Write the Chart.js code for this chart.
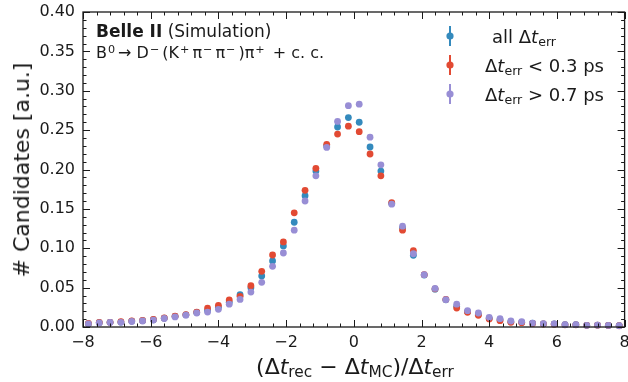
<!DOCTYPE html>
<html>
<head>
<meta charset="utf-8">
<script src="https://cdn.jsdelivr.net/npm/chart.js@4.4.1/dist/chart.umd.min.js"></script>
<style>
  html, body { margin: 0; padding: 0; background: #fff; }
  #wrap { position: relative; width: 628px; height: 382px; font-family: 'DejaVu Sans', sans-serif; color: #1a1a1a; }
  #c { position: absolute; left: 0; top: 0; }
  .t { position: absolute; white-space: nowrap; line-height: 1; }
  .t i { font-family: 'DejaVu Sans', sans-serif; font-style: oblique; }
  .t sub { font-size: 70%; vertical-align: -0.22em; line-height: 0; }
  .t sup { font-size: 70%; vertical-align: 0.42em; line-height: 0; }
  #ylab { left: 22px; top: 170px; font-size: 22px; transform: translate(-50%, -50%) rotate(-90deg); transform-origin: center; }
  #xlab { left: 355px; top: 356px; font-size: 22px; transform: translateX(-50%); }
  #exp1 { left: 96px; top: 23px; font-size: 17px; }
  #exp2 { left: 96px; top: 45px; font-size: 16px; }
  #exp2 sup { margin: 0 3px 0 1px; }
  .leg { font-size: 18px; }
</style>
</head>
<body>
<div id="wrap">
  <canvas id="c" width="628" height="382"></canvas>
  <div class="t" id="ylab"># Candidates [a.u.]</div>
  <div class="t" id="xlab">(Δ<i>t</i><sub>rec</sub> − Δ<i>t</i><sub>MC</sub>)/Δ<i>t</i><sub>err</sub></div>
  <div class="t" id="exp1"><b>Belle II</b> (Simulation)</div>
  <div class="t" id="exp2">B<sup>0</sup>→ D<sup>−</sup>(K<sup>+</sup>π<sup>−</sup>π<sup>−</sup>)π<sup>+</sup> + c. c.</div>
  <div class="t leg" style="left:492px;top:28px">all Δ<i>t</i><sub>err</sub></div>
  <div class="t leg" style="left:485px;top:57px">Δ<i>t</i><sub>err</sub> &lt; 0.3 ps</div>
  <div class="t leg" style="left:485px;top:86px">Δ<i>t</i><sub>err</sub> &gt; 0.7 ps</div>
</div>
<script>
const binCenters = [
  -7.84, -7.52, -7.20, -6.88, -6.56, -6.24, -5.92, -5.60, -5.28, -4.96,
  -4.64, -4.32, -4.00, -3.68, -3.36, -3.04, -2.72, -2.40, -2.08, -1.76,
  -1.44, -1.12, -0.80, -0.48, -0.16, 0.16, 0.48, 0.80, 1.12, 1.44,
  1.76, 2.08, 2.40, 2.72, 3.04, 3.36, 3.68, 4.00, 4.32, 4.64,
  4.96, 5.28, 5.60, 5.92, 6.24, 6.56, 6.88, 7.20, 7.52, 7.84
]

const allErr = [
  0.0042, 0.0055, 0.0059, 0.0063, 0.0075, 0.0080, 0.0092, 0.0112, 0.0135, 0.0155,
  0.0185, 0.0210, 0.0250, 0.0315, 0.0410, 0.0500, 0.0648, 0.0838, 0.1030, 0.1330,
  0.1668, 0.1980, 0.2300, 0.2540, 0.2660, 0.2600, 0.2286, 0.1980, 0.1570, 0.1260,
  0.0910, 0.0660, 0.0480, 0.0345, 0.0260, 0.0195, 0.0160, 0.0110, 0.0092, 0.0068,
  0.0060, 0.0048, 0.0040, 0.0038, 0.0029, 0.0029, 0.0021, 0.0024, 0.0020, 0.0017
]

const lowErr = [
  0.0045, 0.0058, 0.0060, 0.0068, 0.0078, 0.0084, 0.0095, 0.0115, 0.0138, 0.0158,
  0.0190, 0.0240, 0.0275, 0.0343, 0.0390, 0.0525, 0.0707, 0.0914, 0.1080, 0.1450,
  0.1736, 0.2015, 0.2320, 0.2450, 0.2550, 0.2480, 0.2197, 0.1920, 0.1580, 0.1230,
  0.0970, 0.0665, 0.0485, 0.0350, 0.0240, 0.0187, 0.0148, 0.0102, 0.0080, 0.0060,
  0.0055, 0.0045, 0.0038, 0.0036, 0.0028, 0.0028, 0.0021, 0.0023, 0.0019, 0.0016
]

const highErr = [
  0.0040, 0.0052, 0.0057, 0.0060, 0.0070, 0.0076, 0.0088, 0.0108, 0.0128, 0.0150,
  0.0178, 0.0190, 0.0224, 0.0290, 0.0350, 0.0444, 0.0567, 0.0770, 0.0940, 0.1230,
  0.1600, 0.1920, 0.2280, 0.2610, 0.2810, 0.2830, 0.2410, 0.2060, 0.1560, 0.1280,
  0.0930, 0.0665, 0.0490, 0.0347, 0.0290, 0.0207, 0.0178, 0.0123, 0.0106, 0.0076,
  0.0068, 0.0050, 0.0042, 0.0040, 0.0030, 0.0030, 0.0021, 0.0025, 0.0020, 0.0017
]

const seriesLabels = ['all Δt_err', 'Δt_err < 0.3 ps', 'Δt_err > 0.7 ps']
const colors = ['#348ABD', '#E24A33', '#988ED5']

const pts = ys => binCenters.map((x, i) => ({ x, y: ys[i] }))
const font = { family: "'DejaVu Sans', sans-serif", size: 16 }
const minus = v => String(v).replace('-', '\u2212')

const frameTicks = {
  id: 'frameTicks',
  afterDatasetsDraw (chart) {
    const { ctx, chartArea: a, scales: { x, y } } = chart
    ctx.save()
    ctx.strokeStyle = '#1a1a1a'
    ctx.lineWidth = 1
    const line = (x0, y0, x1, y1) => {
      ctx.beginPath()
      ctx.moveTo(x0, y0)
      ctx.lineTo(x1, y1)
      ctx.stroke()
    }
    for (let i = 0; i <= 40; i++) {
      const px = Math.round(x.getPixelForValue(-8 + i * 0.4)) + 0.5
      const len = i % 5 === 0 ? 7 : 3.5
      line(px, a.bottom, px, a.bottom - len)
      line(px, a.top, px, a.top + len)
    }
    for (let i = 0; i <= 40; i++) {
      const py = Math.round(y.getPixelForValue(i * 0.01)) + 0.5
      const len = i % 5 === 0 ? 7 : 3.5
      line(a.left, py, a.left + len, py)
      line(a.right, py, a.right - len, py)
    }
    ctx.lineWidth = 1.3
    ctx.strokeRect(a.left, a.top, a.right - a.left, a.bottom - a.top)

    // legend handles: marker with error bar
    colors.forEach((c, i) => {
      const cy = 36 + i * 29
      ctx.strokeStyle = c
      ctx.fillStyle = c
      ctx.lineWidth = 2
      line(450, cy - 10, 450, cy + 10)
      ctx.beginPath()
      ctx.arc(450, cy, 3.6, 0, Math.PI * 2)
      ctx.fill()
    })
    ctx.restore()
  }
}

const chart = new Chart(document.getElementById('c'), {
  type: 'scatter',
  data: {
    datasets: [allErr, lowErr, highErr].map((ys, i) => ({
      label: seriesLabels[i],
      data: pts(ys),
      backgroundColor: colors[i],
      borderWidth: 0,
      pointRadius: 3.4,
      pointHoverRadius: 3.4,
      order: 3 - i,
      clip: 4
    }))
  },
  options: {
    responsive: false,
    animation: false,
    devicePixelRatio: 1,
    layout: { padding: { top: 12, right: 2, left: 0, bottom: 0 } },
    plugins: { legend: { display: false }, tooltip: { enabled: false } },
    scales: {
      x: {
        type: 'linear',
        min: -8,
        max: 8,
        grid: { display: false, drawTicks: false },
        border: { display: false },
        ticks: { stepSize: 2, font, color: '#1a1a1a', padding: 6, maxRotation: 0, callback: v => minus(v) },
        afterFit (s) { s.height = 55; s.paddingLeft = 0; s.paddingRight = 0 }
      },
      y: {
        min: 0,
        max: 0.4,
        grid: { display: false, drawTicks: false },
        border: { display: false },
        ticks: { stepSize: 0.05, font, color: '#1a1a1a', padding: 8, callback: v => v.toFixed(2) },
        afterFit (s) { s.width = 83; s.paddingTop = 0; s.paddingBottom = 0 }
      }
    }
  },
  plugins: [frameTicks]
})
</script>
</body>
</html>
